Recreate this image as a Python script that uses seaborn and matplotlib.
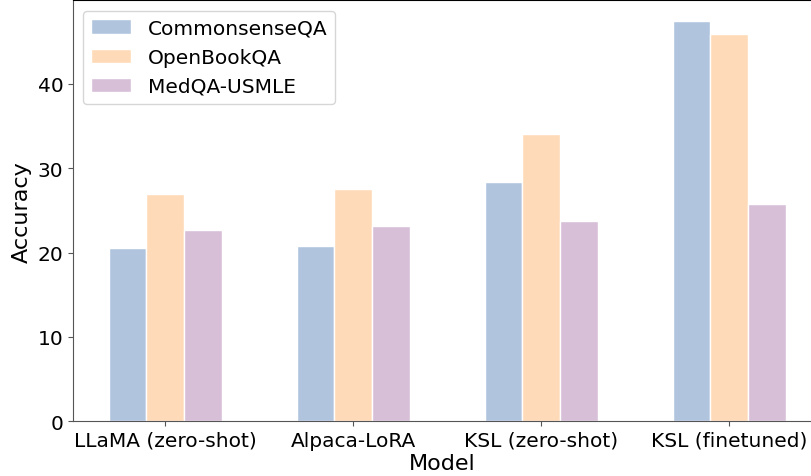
import pandas as pd
import seaborn as sns
import matplotlib.pyplot as plt

# Data
models = ["LLaMA (zero-shot)", "Alpaca-LoRA", "KSL (zero-shot)", "KSL (finetuned)"]
datasets = ["CommonsenseQA", "OpenBookQA", "MedQA-USMLE"]
commonsense_qa = [20.5, 20.8, 28.4, 47.5]
openbook_qa = [26.9, 27.5, 34.1, 45.9]
medqa_usmle = [22.7, 23.1, 23.7, 25.7]
colors = ["#B0C4DE", "#FFDAB9", "#D8BFD8"]

rows = []
for name, vals in zip(datasets, [commonsense_qa, openbook_qa, medqa_usmle]):
    for m, v in zip(models, vals):
        rows.append({"Model": m, "Dataset": name, "Accuracy": v})
data = pd.DataFrame(rows)

sns.set_style("ticks")
plt.rcParams["text.color"] = "black"
plt.rcParams["axes.labelcolor"] = "black"
plt.rcParams["xtick.color"] = "black"
plt.rcParams["ytick.color"] = "black"

fig = plt.figure(figsize=(8.12, 4.77), dpi=100)
ax = fig.add_axes([0.09, 0.115, 0.91, 0.882])

sns.barplot(data=data, x="Model", y="Accuracy", hue="Dataset",
            palette=colors, width=0.6, edgecolor="white", linewidth=1,
            saturation=1, ax=ax)

ax.set_xlim(-0.49, 3.44)
ax.set_ylim(0, 49.9)
ax.set_xlabel("Model", fontsize=16, labelpad=2)
ax.set_ylabel("Accuracy", fontsize=16)
ax.tick_params(labelsize=14.5)
ax.tick_params(axis="both", colors="#555555", labelcolor="black")
ax.legend(loc="upper left", fontsize=14.5, title=None)
for s in ax.spines.values():
    s.set_visible(True)
    s.set_color("#555555")
ax.spines["top"].set_color("black")
ax.spines["right"].set_visible(False)  # cut off in the reference

fig.savefig("out.png", dpi=100)
